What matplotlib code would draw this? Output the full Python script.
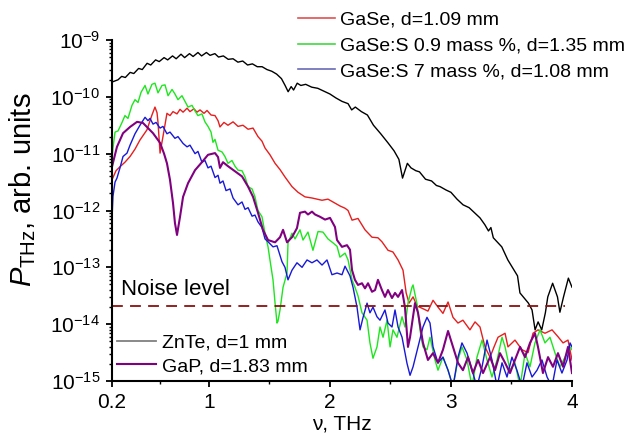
import numpy as np
import matplotlib
matplotlib.use("Agg")
import matplotlib.pyplot as plt
from matplotlib.lines import Line2D
from matplotlib.ticker import LogLocator, LogFormatterMathtext, NullFormatter

plt.rcParams['font.family'] = ['Liberation Sans', 'DejaVu Sans']
plt.rcParams['mathtext.fontset'] = 'custom'
plt.rcParams['mathtext.rm'] = 'Liberation Sans'
plt.rcParams['mathtext.it'] = 'Liberation Sans:italic'
plt.rcParams['mathtext.bf'] = 'Liberation Sans:bold'

# frequency (THz) and log10 of power
znte_nu = [0.20, 0.25, 0.28, 0.31, 0.35, 0.38, 0.42, 0.45, 0.49, 0.52, 0.56, 0.59, 0.63, 0.66,
           0.70, 0.73, 0.77, 0.80, 0.84, 0.87, 0.91, 0.94, 0.98, 1.01, 1.05, 1.08, 1.12, 1.16,
           1.20, 1.24, 1.28, 1.32, 1.36, 1.40, 1.44, 1.48, 1.52, 1.56, 1.60, 1.63, 1.655, 1.68,
           1.70, 1.73, 1.76, 1.80, 1.85, 1.90, 1.95, 2.00, 2.05, 2.10, 2.15, 2.18, 2.21, 2.26,
           2.31, 2.36, 2.42, 2.48, 2.53, 2.57, 2.60, 2.62, 2.64, 2.67, 2.71, 2.74, 2.79, 2.84,
           2.88, 2.91, 2.96, 3.00, 3.05, 3.10, 3.15, 3.20, 3.24, 3.28, 3.31, 3.33, 3.35, 3.42,
           3.47, 3.51, 3.55, 3.57, 3.64, 3.67, 3.695, 3.72, 3.75, 3.78, 3.80, 3.84, 3.88, 3.90,
           3.93, 3.97, 4.00]
znte_lg = [-9.74, -9.70, -9.64, -9.66, -9.57, -9.59, -9.50, -9.52, -9.41, -9.44, -9.35, -9.38,
           -9.31, -9.35, -9.28, -9.33, -9.25, -9.31, -9.24, -9.29, -9.22, -9.28, -9.22, -9.27,
           -9.24, -9.30, -9.28, -9.34, -9.33, -9.39, -9.37, -9.44, -9.42, -9.47, -9.47, -9.52,
           -9.55, -9.60, -9.68, -9.80, -9.91, -9.82, -9.88, -9.76, -9.80, -9.78, -9.83, -9.85,
           -9.90, -9.95, -10.02, -10.08, -10.12, -10.23, -10.18, -10.26, -10.32, -10.50, -10.65,
           -10.81, -10.95, -11.10, -11.43, -11.30, -11.17, -11.25, -11.30, -11.32, -11.45,
           -11.48, -11.56, -11.58, -11.64, -11.68, -11.80, -11.90, -11.95, -12.05, -12.13,
           -12.25, -12.36, -12.30, -12.48, -12.64, -12.87, -13.01, -13.15, -13.45, -13.63,
           -13.75, -14.10, -13.96, -14.10, -13.80, -13.52, -13.28, -13.52, -13.79, -13.52,
           -13.19, -13.35]

gase_nu = [0.200, 0.233, 0.266, 0.307, 0.349, 0.390, 0.431, 0.489, 0.530, 0.555, 0.572, 0.580,
           0.597, 0.621, 0.654, 0.679, 0.704, 0.737, 0.762, 0.787, 0.820, 0.844, 0.877, 0.902,
           0.927, 0.960, 0.985, 1.018, 1.051, 1.076, 1.092, 1.125, 1.158, 1.200, 1.241, 1.282,
           1.324, 1.365, 1.406, 1.439, 1.464, 1.505, 1.547, 1.588, 1.629, 1.687, 1.737, 1.794,
           1.852, 1.935, 1.984, 2.042, 2.083, 2.125, 2.150, 2.183, 2.232, 2.290, 2.348, 2.397,
           2.430, 2.480, 2.521, 2.563, 2.604, 2.630, 2.654, 2.687, 2.720, 2.761, 2.810, 2.852,
           2.893, 2.934, 2.976, 3.017, 3.058, 3.099, 3.157, 3.199, 3.240, 3.281, 3.323, 3.356,
           3.389, 3.447, 3.471, 3.529, 3.587, 3.637, 3.678, 3.719, 3.777, 3.835, 3.884, 3.926,
           3.967, 4.000]
gase_lg = [-11.46, -11.30, -11.23, -11.15, -11.05, -10.92, -10.76, -10.58, -10.32, -10.18,
           -10.28, -10.45, -10.99, -10.70, -10.29, -10.33, -10.26, -10.30, -10.22, -10.27,
           -10.20, -10.26, -10.21, -10.27, -10.23, -10.29, -10.24, -10.32, -10.33, -10.42,
           -10.53, -10.45, -10.50, -10.44, -10.52, -10.50, -10.57, -10.55, -10.70, -10.78,
           -10.90, -11.02, -11.17, -11.28, -11.41, -11.58, -11.68, -11.76, -11.78, -11.82,
           -11.80, -11.87, -11.92, -11.96, -12.00, -12.17, -12.14, -12.34, -12.47, -12.48,
           -12.55, -12.70, -12.73, -12.87, -13.05, -13.45, -13.63, -13.52, -13.68, -13.72,
           -13.77, -13.58, -13.70, -13.81, -13.61, -13.88, -13.98, -13.93, -14.10, -13.96,
           -14.05, -14.40, -14.58, -14.40, -14.23, -14.16, -14.40, -14.28, -14.45, -14.50,
           -14.16, -14.10, -14.16, -14.10, -14.22, -14.33, -14.28, -14.63]

gases09_nu = [0.200, 0.208, 0.225, 0.250, 0.283, 0.307, 0.332, 0.365, 0.390, 0.415, 0.440,
              0.473, 0.497, 0.530, 0.555, 0.580, 0.613, 0.638, 0.663, 0.696, 0.720, 0.745,
              0.778, 0.803, 0.828, 0.861, 0.886, 0.910, 0.943, 0.968, 0.993, 1.018, 1.034,
              1.051, 1.076, 1.109, 1.133, 1.158, 1.191, 1.216, 1.241, 1.274, 1.299, 1.324,
              1.357, 1.381, 1.406, 1.439, 1.464, 1.489, 1.505, 1.530, 1.547, 1.563, 1.571,
              1.588, 1.613, 1.646, 1.654, 1.687, 1.712, 1.753, 1.778, 1.819, 1.860, 1.902,
              1.943, 1.984, 2.026, 2.059, 2.083, 2.125, 2.150, 2.183, 2.207, 2.232, 2.265,
              2.307, 2.331, 2.356, 2.389, 2.414, 2.439, 2.472, 2.497, 2.521, 2.554, 2.596,
              2.620, 2.645, 2.678, 2.687, 2.720, 2.744, 2.769, 2.802, 2.827, 2.868, 2.893,
              2.934, 2.976, 3.017, 3.058, 3.091, 3.133, 3.174, 3.215, 3.257, 3.298, 3.339,
              3.381, 3.422, 3.447, 3.488, 3.529, 3.571, 3.612, 3.653, 3.694, 3.736, 3.777,
              3.818, 3.860, 3.901, 3.942, 3.984, 4.000]
gases09_lg = [-11.10, -10.90, -10.62, -10.60, -10.45, -10.33, -10.38, -10.15, -10.05, -10.10,
              -9.92, -9.80, -9.95, -9.78, -9.76, -9.93, -9.80, -9.79, -9.98, -9.87, -9.95,
              -10.05, -9.98, -10.08, -10.18, -10.15, -10.25, -10.33, -10.30, -10.44, -10.52,
              -10.62, -10.80, -10.75, -10.94, -10.97, -11.05, -11.17, -11.12, -11.22, -11.29,
              -11.30, -11.41, -11.58, -11.62, -11.76, -12.00, -12.11, -12.40, -12.64, -12.87,
              -13.22, -13.63, -13.98, -13.95, -13.75, -13.35, -13.10, -12.57, -12.40, -12.50,
              -12.34, -12.52, -12.38, -12.70, -12.37, -12.38, -12.50, -12.57, -12.63, -12.82,
              -12.75, -12.87, -13.22, -13.35, -13.50, -13.80, -13.93, -14.33, -14.60, -14.40,
              -14.05, -14.23, -13.93, -14.40, -14.10, -14.23, -13.87, -14.05, -13.63, -13.35,
              -13.31, -13.65, -14.10, -14.40, -14.45, -14.23, -14.63, -14.81, -14.58, -14.81,
              -15.10, -14.63, -14.40, -14.63, -15.10, -14.58, -14.28, -14.63, -14.93, -14.63,
              -14.23, -14.40, -14.81, -14.68, -15.10, -14.51, -14.75, -14.33, -14.10, -14.33,
              -14.23, -14.51, -14.75, -14.58, -14.40, -14.45]

gases7_nu = [0.200, 0.208, 0.225, 0.241, 0.266, 0.291, 0.324, 0.349, 0.390, 0.431, 0.473,
             0.497, 0.514, 0.539, 0.564, 0.597, 0.621, 0.654, 0.679, 0.720, 0.745, 0.787,
             0.820, 0.844, 0.886, 0.910, 0.943, 0.968, 0.993, 1.018, 1.051, 1.076, 1.092,
             1.117, 1.142, 1.175, 1.200, 1.241, 1.274, 1.299, 1.324, 1.357, 1.381, 1.406,
             1.439, 1.464, 1.489, 1.530, 1.563, 1.604, 1.629, 1.654, 1.687, 1.728, 1.770,
             1.811, 1.852, 1.893, 1.935, 1.976, 2.017, 2.059, 2.100, 2.125, 2.166, 2.191,
             2.224, 2.249, 2.274, 2.307, 2.331, 2.356, 2.389, 2.414, 2.455, 2.480, 2.513,
             2.538, 2.563, 2.596, 2.637, 2.662, 2.687, 2.728, 2.769, 2.802, 2.827, 2.852,
             2.893, 2.934, 2.976, 3.017, 3.058, 3.091, 3.133, 3.174, 3.215, 3.257, 3.298,
             3.339, 3.381, 3.422, 3.463, 3.504, 3.545, 3.587, 3.628, 3.670, 3.711, 3.752,
             3.794, 3.835, 3.876, 3.917, 3.959, 3.984, 4.000]
gases7_lg = [-12.15, -11.75, -11.50, -11.43, -11.25, -11.05, -10.99, -10.85, -10.65, -10.50,
             -10.36, -10.42, -10.38, -10.48, -10.45, -10.55, -10.52, -10.65, -10.62, -10.73,
             -10.70, -10.82, -10.88, -10.85, -11.00, -10.96, -11.15, -11.12, -11.25, -11.22,
             -11.42, -11.38, -11.52, -11.48, -11.65, -11.62, -11.78, -11.90, -11.85, -11.98,
             -11.95, -12.10, -12.08, -12.20, -12.30, -12.50, -12.55, -12.64, -12.62, -12.90,
             -13.00, -13.22, -13.05, -12.92, -13.00, -12.87, -12.92, -12.87, -12.96, -12.87,
             -13.13, -13.10, -13.13, -12.98, -13.15, -13.35, -13.70, -14.10, -13.88, -13.63,
             -13.80, -13.70, -13.87, -13.93, -13.75, -13.98, -14.05, -13.75, -14.05, -14.23,
             -14.69, -14.90, -14.75, -14.40, -14.05, -13.88, -13.98, -14.40, -14.68, -14.58,
             -14.81, -15.10, -14.58, -14.33, -14.51, -14.81, -15.10, -14.75, -14.28, -14.63,
             -15.10, -14.68, -14.93, -14.58, -14.81, -15.10, -14.68, -14.93, -14.81, -14.63,
             -14.93, -15.10, -14.63, -14.86, -14.63, -14.33, -14.40]

gap_nu = [0.200, 0.241, 0.291, 0.349, 0.407, 0.456, 0.539, 0.597, 0.630, 0.654, 0.679, 0.704,
          0.720, 0.737, 0.762, 0.787, 0.828, 0.886, 0.943, 0.993, 1.051, 1.076, 1.092, 1.117,
          1.158, 1.216, 1.274, 1.324, 1.365, 1.406, 1.447, 1.489, 1.547, 1.588, 1.613, 1.646,
          1.687, 1.728, 1.753, 1.794, 1.819, 1.852, 1.877, 1.918, 1.960, 2.001, 2.042, 2.059,
          2.100, 2.141, 2.166, 2.183, 2.207, 2.232, 2.265, 2.290, 2.315, 2.348, 2.373, 2.397,
          2.430, 2.455, 2.480, 2.513, 2.538, 2.563, 2.596, 2.620, 2.645, 2.662, 2.703, 2.728,
          2.769, 2.810, 2.852, 2.893, 2.934, 2.976, 3.017, 3.058, 3.099, 3.141, 3.182, 3.224,
          3.265, 3.323, 3.364, 3.405, 3.447, 3.488, 3.529, 3.571, 3.612, 3.653, 3.694, 3.719,
          3.760, 3.802, 3.843, 3.884, 3.926, 3.967, 4.000]
gap_lg = [-11.23, -10.88, -10.64, -10.53, -10.44, -10.46, -10.64, -10.81, -11.00, -11.17,
          -11.46, -11.87, -12.22, -12.43, -12.11, -11.76, -11.52, -11.29, -11.15, -11.02,
          -10.99, -11.06, -11.25, -11.15, -11.22, -11.31, -11.40, -11.58, -11.76, -12.04,
          -12.34, -12.52, -12.56, -12.47, -12.34, -12.56, -12.47, -12.31, -12.04, -12.02,
          -12.07, -12.02, -12.07, -12.11, -12.16, -12.13, -12.29, -12.52, -12.64, -12.61,
          -12.69, -13.05, -13.22, -13.31, -13.28, -13.37, -13.28, -13.43, -13.40, -13.22,
          -13.40, -13.52, -13.40, -13.54, -13.45, -13.52, -13.40, -13.70, -14.40, -14.23,
          -13.63, -13.80, -14.33, -14.63, -14.51, -14.68, -14.45, -14.12, -14.40, -14.68,
          -14.81, -14.58, -14.86, -14.63, -14.86, -14.58, -14.81, -14.51, -14.68, -14.86,
          -14.63, -14.40, -14.58, -14.33, -14.16, -14.40, -14.86, -14.58, -14.75, -14.51,
          -14.75, -14.40, -14.86]

noise_level = 2.1e-14
noise_end = 3.94

x_ticks = [0.2, 1, 2, 3, 4]
x_tick_labels = ['0.2', '1', '2', '3', '4']
x_minor = [0.6, 1.5, 2.5, 3.5]

fig = plt.figure(figsize=(6.34, 4.37), dpi=100)
ax = fig.add_axes([112 / 634, 1 - 381 / 437, 460 / 634, 341 / 437])

ax.plot(gase_nu, 10.0 ** np.array(gase_lg), color='#e61e1e', lw=1.0)
ax.plot(gases09_nu, 10.0 ** np.array(gases09_lg), color='#1ee61e', lw=1.0)
ax.plot(gases7_nu, 10.0 ** np.array(gases7_lg), color='#1818d8', lw=1.0)
ax.plot(gap_nu, 10.0 ** np.array(gap_lg), color='#800080', lw=1.5)
ax.plot(znte_nu, 10.0 ** np.array(znte_lg), color='black', lw=1.0)

ax.hlines(noise_level, 0.2, noise_end, colors='#8b1010', linestyles=(0, (6, 4)), lw=1.3)
ax.text(0.274, 3.2e-14, 'Noise level', fontsize=16, va='baseline', ha='left')

ax.set_yscale('log')
ax.set_xlim(0.2, 4)
ax.set_ylim(1e-15, 1e-9)
ax.set_xticks(x_ticks)
ax.set_xticklabels(x_tick_labels)
ax.set_xticks(x_minor, minor=True)
ax.yaxis.set_major_locator(LogLocator(base=10, numticks=20))
ax.yaxis.set_major_formatter(LogFormatterMathtext())
ax.yaxis.set_minor_locator(LogLocator(base=10, subs=np.arange(2, 10), numticks=100))
ax.yaxis.set_minor_formatter(NullFormatter())

for s in ['top', 'right']:
    ax.spines[s].set_visible(False)
for s in ['left', 'bottom']:
    ax.spines[s].set_linewidth(1.5)
ax.tick_params(which='major', direction='out', length=4.5, width=1.3, labelsize=15, pad=4)
ax.tick_params(which='minor', direction='out', length=2.5, width=1.0)

ax.set_ylabel(r'$P_{\mathrm{THz}}$, arb. units', fontsize=21)
ax.yaxis.set_label_coords(-0.16, 0.56)
ax.set_xlabel('ν, THz', fontsize=15, labelpad=2)

top_handles = [Line2D([], [], color='#e05050', lw=1.2),
               Line2D([], [], color='#40d840', lw=1.2),
               Line2D([], [], color='#6a6ab8', lw=1.2)]
top_labels = ['GaSe, d=1.09 mm', 'GaSe:S 0.9 mass %, d=1.35 mm', 'GaSe:S 7 mass %, d=1.08 mm']
leg1 = ax.legend(top_handles, top_labels, loc='upper left', bbox_to_anchor=(298 / 634, 1 - 11 / 437),
                 bbox_transform=fig.transFigure, frameon=False, fontsize=14, borderpad=0,
                 borderaxespad=0, handlelength=1.9, handletextpad=0.25, labelspacing=0.42)
ax.add_artist(leg1)

bot_handles = [Line2D([], [], color='#808080', lw=1.3),
               Line2D([], [], color='#800080', lw=1.5)]
bot_labels = ['ZnTe, d=1 mm', 'GaP, d=1.83 mm']
ax.legend(bot_handles, bot_labels, loc='lower left', bbox_to_anchor=(117 / 634, 1 - 375 / 437),
          bbox_transform=fig.transFigure, frameon=False, fontsize=14, borderpad=0,
          borderaxespad=0, handlelength=2.0, handletextpad=0.3, labelspacing=0.3)

fig.savefig('out.png', dpi=100)
